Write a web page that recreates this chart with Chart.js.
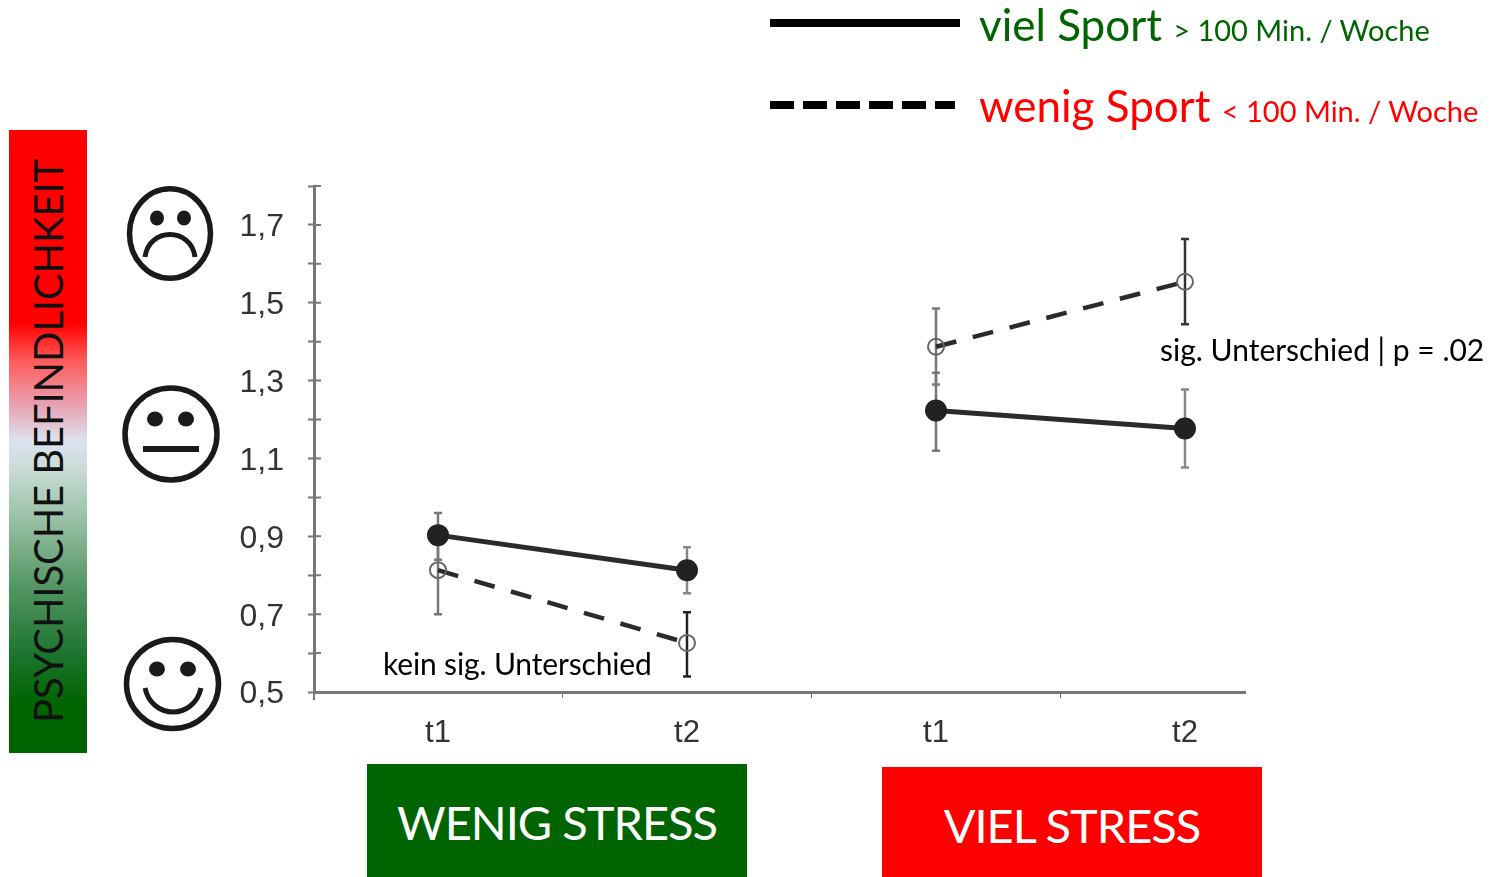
<!DOCTYPE html>
<html>
<head>
<meta charset="utf-8">
<title>Psychische Befindlichkeit</title>
<script src="https://cdn.jsdelivr.net/npm/chart.js@4"></script>
<style>
html, body { margin: 0; padding: 0; background: #fff; }
#page { position: relative; width: 1502px; height: 877px; overflow: hidden; font-family: Lato, "Open Sans", sans-serif; }
#canevas { position: absolute; left: 0; top: 0; }
.txt { position: absolute; white-space: nowrap; line-height: 1; }
.box { position: absolute; color: #fff; display: flex; align-items: center; justify-content: center; font-size: 47px; letter-spacing: -1px; }
#bar { position: absolute; left: 9px; top: 130px; width: 78px; height: 623px;
  background: linear-gradient(to bottom, #f00 0, #f00 31%, #ff5a5a 37%, #e8a0b0 44%, #dde3ef 50%, #c5dbd2 55%, #8fbb9c 64%, #4f9360 74%, #1d7530 84%, #006400 92%, #006400 100%); }
#barText { position: absolute; left: 48px; top: 441px; transform: translate(-50%, -50%) rotate(-90deg); font-size: 40px; color: #111; white-space: nowrap; line-height: 1; letter-spacing: -0.1px; }
.line1 { position: absolute; left: 770px; top: 19px; width: 190px; height: 8px; background: #000; }
.line2 { position: absolute; left: 770px; top: 101px; width: 185px; height: 8px;
  background: repeating-linear-gradient(to right, #000 0, #000 24px, transparent 24px, transparent 33px); }
svg.smile { position: absolute; }
</style>
</head>
<body>
<div id="page">
  <canvas id="canevas" width="1502" height="877"></canvas>

  <div id="bar"></div>
  <div id="barText">PSYCHISCHE BEFINDLICHKEIT</div>

  <svg class="smile" style="left:125px;top:185px" width="92" height="98" viewBox="0 0 92 98">
    <ellipse cx="45" cy="48.5" rx="40.5" ry="44.8" fill="none" stroke="#1a1a1a" stroke-width="5.5"/>
    <ellipse cx="32" cy="33" rx="7" ry="7.5" fill="#1a1a1a"/><ellipse cx="59" cy="33" rx="7" ry="7.5" fill="#1a1a1a"/>
    <path d="M20 72 C24 42 66 42 70 72" fill="none" stroke="#1a1a1a" stroke-width="5"/>
  </svg>
  <svg class="smile" style="left:120px;top:383px" width="102" height="102" viewBox="0 0 102 102">
    <ellipse cx="51" cy="51" rx="46" ry="46" fill="none" stroke="#1a1a1a" stroke-width="5.5"/>
    <ellipse cx="35" cy="36" rx="8" ry="7.5" fill="#1a1a1a"/><ellipse cx="66" cy="36" rx="8" ry="7.5" fill="#1a1a1a"/>
    <rect x="23" y="63" width="56" height="6" fill="#1a1a1a"/>
  </svg>
  <svg class="smile" style="left:122px;top:634px" width="102" height="100" viewBox="0 0 102 100">
    <ellipse cx="50.5" cy="50" rx="46" ry="44.5" fill="none" stroke="#1a1a1a" stroke-width="5.5"/>
    <ellipse cx="35" cy="35" rx="8" ry="7.5" fill="#1a1a1a"/><ellipse cx="66" cy="35" rx="8" ry="7.5" fill="#1a1a1a"/>
    <path d="M23 54 C30 86 72 86 79 54" fill="none" stroke="#1a1a1a" stroke-width="5"/>
  </svg>

  <div class="line1"></div>
  <div class="line2"></div>
  <div class="txt" style="left:979px;top:2px;color:#006400;font-size:44px">viel Sport <span style="font-size:29px">&gt; 100 Min. / Woche</span></div>
  <div class="txt" style="left:979px;top:83px;color:#f00;font-size:44px">wenig Sport <span style="font-size:29px">&lt; 100 Min. / Woche</span></div>

  <div class="txt" style="left:383px;top:648px;color:#000;font-size:30px;letter-spacing:-0.15px">kein sig. Unterschied</div>
  <div class="txt" style="left:1160px;top:334px;color:#000;font-size:30px">sig. Unterschied | p = .02</div>

  <div class="box" style="left:367px;top:764px;width:380px;height:115px;background:#006400">WENIG STRESS</div>
  <div class="box" style="left:882px;top:767px;width:380px;height:116px;background:#f00;clip-path:inset(0 0 6px 0)">VIEL STRESS</div>
</div>

<script>
// werte
var xPos = [1, 2, 3, 4];
var xLabels = ["t1", "t2", "t1", "t2"];
var xMinor = [1.5, 2.5, 3.5];
var yTicks = [0.5, 0.6, 0.7, 0.8, 0.9, 1.0, 1.1, 1.2, 1.3, 1.4, 1.5, 1.6, 1.7, 1.8];
var yLabels = ["0,5", "", "0,7", "", "0,9", "", "1,1", "", "1,3", "", "1,5", "", "1,7", ""];

var vielSport = [0.903, 0.813, 1.223, 1.177];
var vielLow = [0.84, 0.754, 1.12, 1.077];
var vielHigh = [0.96, 0.872, 1.32, 1.277];

var wenigSport = [0.813, 0.626, 1.387, 1.554];
var wenigLow = [0.70, 0.54, 1.29, 1.445];
var wenigHigh = [0.92, 0.705, 1.485, 1.664];

var vielBarColor = ["#777", "#888", "#777", "#888"];
var wenigBarColor = ["#777", "#222", "#777", "#333"];

function points(vals) {
	return vals.map(function (v, i) { return { x: xPos[i], y: v }; });
}

// keine verbindung zwischen den beiden stress gruppen
var noGap = {
	borderColor: function (ctx) { return ctx.p0DataIndex === 1 ? "transparent" : undefined; }
};

var errorBars = {
	id: "errorBars",
	beforeDatasetsDraw: function (chart) {
		var c = chart.ctx, sx = chart.scales.x, sy = chart.scales.y;
		function draw(low, high, colors) {
			xPos.forEach(function (x, i) {
				var px = sx.getPixelForValue(x);
				var y0 = sy.getPixelForValue(low[i]), y1 = sy.getPixelForValue(high[i]);
				c.strokeStyle = colors[i];
				c.lineWidth = 2.5;
				c.beginPath();
				c.moveTo(px, y0); c.lineTo(px, y1);
				c.moveTo(px - 4, y0); c.lineTo(px + 4, y0);
				c.moveTo(px - 4, y1); c.lineTo(px + 4, y1);
				c.stroke();
			});
		}
		c.save();
		draw(vielLow, vielHigh, vielBarColor);
		draw(wenigLow, wenigHigh, wenigBarColor);
		c.restore();
	}
};

// ticks gehen im original durch die achse durch
var innerTicks = {
	id: "innerTicks",
	afterDraw: function (chart) {
		var c = chart.ctx, sx = chart.scales.x, sy = chart.scales.y;
		c.save();
		c.strokeStyle = "#777";
		c.lineWidth = 2;
		c.beginPath();
		yTicks.forEach(function (v) {
			var py = sy.getPixelForValue(v);
			c.moveTo(sx.left, py); c.lineTo(sx.left + 7, py);
		});
		c.moveTo(sx.left, sy.bottom); c.lineTo(sx.left, sy.bottom + 8);
		c.stroke();
		c.restore();
	}
};

var chart = new Chart(document.getElementById("canevas").getContext("2d"), {
	type: "line",
	data: {
		datasets: [
			{
				label: "viel Sport",
				data: points(vielSport),
				borderColor: "#2b2b2b",
				borderWidth: 5,
				pointRadius: 8.5,
				pointBackgroundColor: "#222",
				pointBorderColor: "#222",
				segment: noGap
			},
			{
				label: "wenig Sport",
				data: points(wenigSport),
				borderColor: "#2b2b2b",
				borderWidth: 4.5,
				borderDash: [21, 17],
				pointRadius: 8,
				pointBorderWidth: 2,
				pointBackgroundColor: "transparent",
				pointBorderColor: "#666",
				segment: noGap
			}
		]
	},
	plugins: [errorBars, innerTicks],
	options: {
		responsive: false,
		animation: false,
		layout: { padding: { left: 216, top: 186, right: 257, bottom: 125 } },
		plugins: { legend: { display: false }, tooltip: { enabled: false } },
		scales: {
			x: {
				type: "linear",
				min: 0.502,
				max: 4.241,
				afterFit: function (s) { s.height = 60; },
				afterBuildTicks: function (s) {
					s.ticks = xPos.concat(xMinor).sort().map(function (v) { return { value: v }; });
				},
				border: { color: "#777", width: 3 },
				grid: {
					drawOnChartArea: false,
					tickLength: 6,
					tickColor: function (ctx) {
						return ctx.tick && xMinor.indexOf(ctx.tick.value) >= 0 ? "#777" : "transparent";
					}
				},
				ticks: {
					autoSkip: false,
					maxRotation: 0,
					padding: 17,
					color: "#333",
					font: { family: "Liberation Sans", size: 31 },
					callback: function (v) {
						var i = xPos.indexOf(v);
						return i >= 0 ? xLabels[i] : "";
					}
				}
			},
			y: {
				min: 0.5,
				max: 1.8,
				afterFit: function (s) { s.width = 98; },
				afterBuildTicks: function (s) {
					s.ticks = yTicks.map(function (v) { return { value: v }; });
				},
				border: { color: "#777", width: 3 },
				grid: { drawOnChartArea: false, tickLength: 6, tickColor: "#777", tickWidth: 2 },
				ticks: {
					autoSkip: false,
					padding: 24,
					color: "#333",
					// leere erste zeile schiebt die labels etwas nach unten
					font: { family: "Liberation Sans", size: 32, lineHeight: 0.16 },
					callback: function (v, i) { return yLabels[i] ? ["", yLabels[i]] : ""; }
				}
			}
		}
	}
});
</script>
</body>
</html>
